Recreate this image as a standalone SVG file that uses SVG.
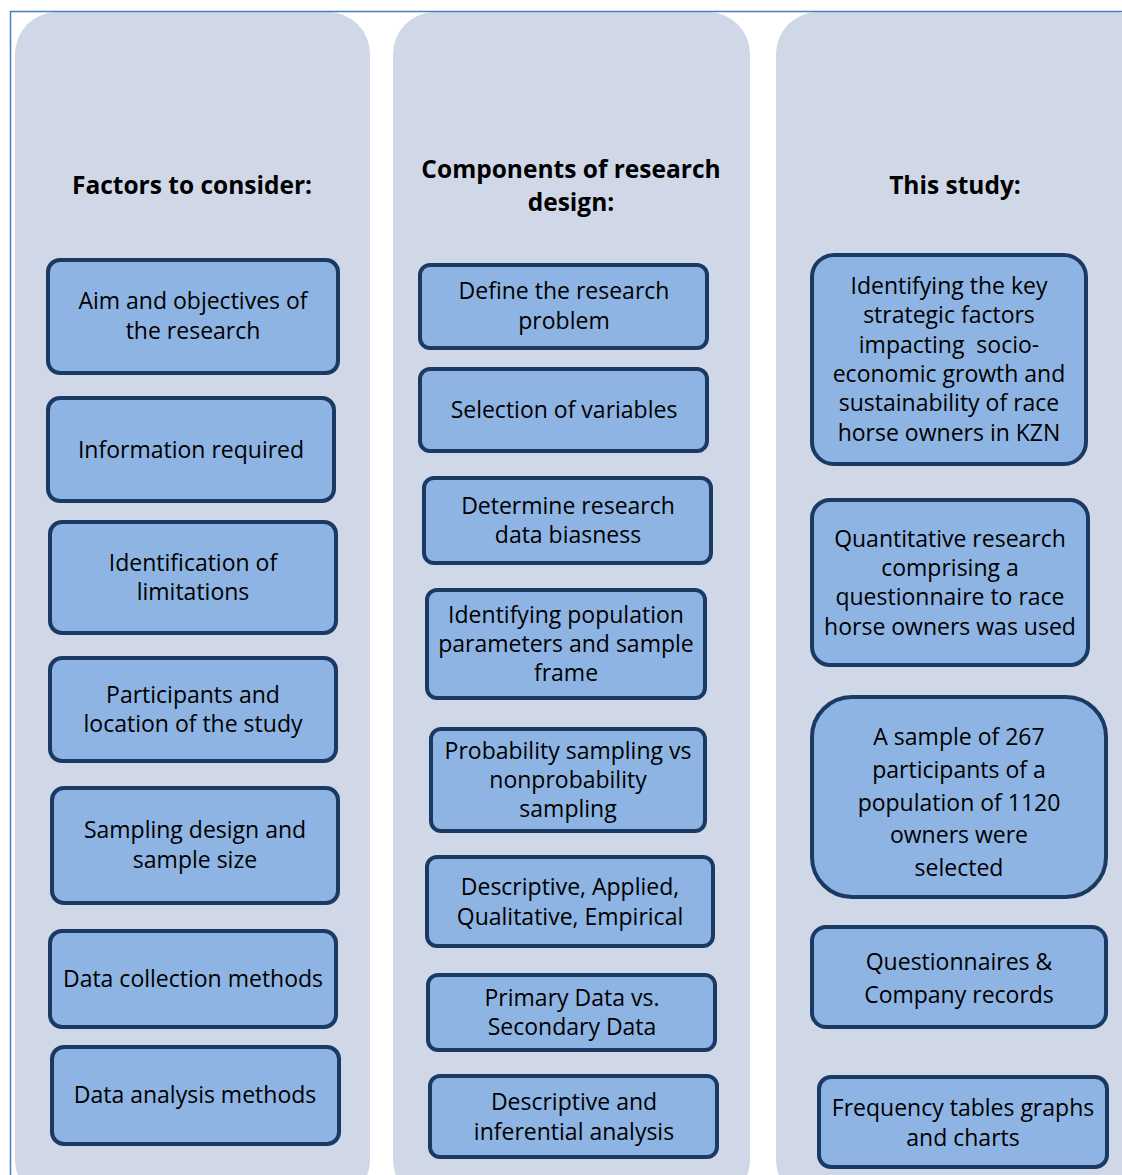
<svg xmlns="http://www.w3.org/2000/svg" width="1122" height="1175" viewBox="0 0 1122 1175">
<style>
.col{fill:#d0d8e8}
.box{fill:#8eb4e3;stroke:#1a3a63;stroke-width:4}
.t{font-family:"Open Sans","Noto Sans",sans-serif;font-size:23px;fill:#000;text-anchor:middle}
.h{font-family:"Open Sans","Noto Sans",sans-serif;font-size:24.5px;font-weight:bold;fill:#000;text-anchor:middle}
</style>
<rect width="1122" height="1175" fill="#fff"/>
<g id="columns">
<rect class="col" x="15" y="12" width="355" height="1190" rx="42"/>
<rect class="col" x="393" y="12" width="357" height="1190" rx="42"/>
<rect class="col" x="776" y="12" width="380" height="1190" rx="42"/>
</g>
<path d="M10.5 1175 V11.5 H1122" fill="none" stroke="#4a7ebb" stroke-width="1.5"/>
<g id="headers">
<text class="h" x="192" y="194">Factors to consider:</text>
<text class="h" x="571" y="178">Components of research</text>
<text class="h" x="571" y="211">design:</text>
<text class="h" x="955" y="194">This study:</text>
</g>
<g id="left">
<g id="l1"><rect class="box" x="48" y="260" width="290" height="113" rx="12"/><text class="t" x="193" y="309">Aim and objectives of</text><text class="t" x="193" y="339">the research</text></g>
<g id="l2"><rect class="box" x="48" y="398" width="286" height="103" rx="12"/><text class="t" x="191" y="458">Information required</text></g>
<g id="l3"><rect class="box" x="50" y="522" width="286" height="111" rx="12"/><text class="t" x="193" y="571">Identification of</text><text class="t" x="193" y="600">limitations</text></g>
<g id="l4"><rect class="box" x="50" y="658" width="286" height="103" rx="12"/><text class="t" x="193" y="703">Participants and</text><text class="t" x="193" y="732">location of the study</text></g>
<g id="l5"><rect class="box" x="52" y="788" width="286" height="115" rx="12"/><text class="t" x="195" y="838">Sampling design and</text><text class="t" x="195" y="868">sample size</text></g>
<g id="l6"><rect class="box" x="50" y="931" width="286" height="96" rx="12"/><text class="t" x="193" y="987">Data collection methods</text></g>
<g id="l7"><rect class="box" x="52" y="1047" width="287" height="97" rx="12"/><text class="t" x="195" y="1103">Data analysis methods</text></g>
</g>
<g id="middle">
<g id="m1"><rect class="box" x="420" y="265" width="287" height="83" rx="10"/><text class="t" x="564" y="299">Define the research</text><text class="t" x="564" y="329">problem</text></g>
<g id="m2"><rect class="box" x="420" y="369" width="287" height="82" rx="10"/><text class="t" x="564" y="418">Selection of variables</text></g>
<g id="m3"><rect class="box" x="424" y="478" width="287" height="85" rx="10"/><text class="t" x="568" y="514">Determine research</text><text class="t" x="568" y="543">data biasness</text></g>
<g id="m4"><rect class="box" x="427" y="590" width="278" height="108" rx="10"/><text class="t" x="566" y="623">Identifying population</text><text class="t" x="566" y="652">parameters and sample</text><text class="t" x="566" y="681">frame</text></g>
<g id="m5"><rect class="box" x="431" y="729" width="274" height="102" rx="10"/><text class="t" x="568" y="759">Probability sampling vs</text><text class="t" x="568" y="788">nonprobability</text><text class="t" x="568" y="817">sampling</text></g>
<g id="m6"><rect class="box" x="427" y="857" width="286" height="89" rx="10"/><text class="t" x="570" y="895">Descriptive, Applied,</text><text class="t" x="570" y="925">Qualitative, Empirical</text></g>
<g id="m7"><rect class="box" x="428" y="975" width="287" height="75" rx="10"/><text class="t" x="572" y="1006">Primary Data vs.</text><text class="t" x="572" y="1035">Secondary Data</text></g>
<g id="m8"><rect class="box" x="430" y="1076" width="287" height="81" rx="10"/><text class="t" x="574" y="1110">Descriptive and</text><text class="t" x="574" y="1140">inferential analysis</text></g>
</g>
<g id="right">
<g id="r1"><rect class="box" x="812" y="255" width="274" height="209" rx="22"/><text class="t" x="949" y="294">Identifying the key</text><text class="t" x="949" y="323">strategic factors</text><text class="t" x="949" y="353" xml:space="preserve">impacting  socio-</text><text class="t" x="949" y="382">economic growth and</text><text class="t" x="949" y="411">sustainability of race</text><text class="t" x="949" y="441">horse owners in KZN</text></g>
<g id="r2"><rect class="box" x="812" y="500" width="276" height="165" rx="18"/><text class="t" x="950" y="547">Quantitative research</text><text class="t" x="950" y="576">comprising a</text><text class="t" x="950" y="605">questionnaire to race</text><text class="t" x="950" y="635">horse owners was used</text></g>
<g id="r3"><rect class="box" x="812" y="697" width="294" height="200" rx="40"/><text class="t" x="959" y="745">A sample of 267</text><text class="t" x="959" y="778">participants of a</text><text class="t" x="959" y="811">population of 1120</text><text class="t" x="959" y="843">owners were</text><text class="t" x="959" y="876">selected</text></g>
<g id="r4"><rect class="box" x="812" y="927" width="294" height="100" rx="14"/><text class="t" x="959" y="970">Questionnaires &amp;</text><text class="t" x="959" y="1003">Company records</text></g>
<g id="r5"><rect class="box" x="819" y="1077" width="288" height="90" rx="12"/><text class="t" x="963" y="1116">Frequency tables graphs</text><text class="t" x="963" y="1146">and charts</text></g>
</g>
</svg>
